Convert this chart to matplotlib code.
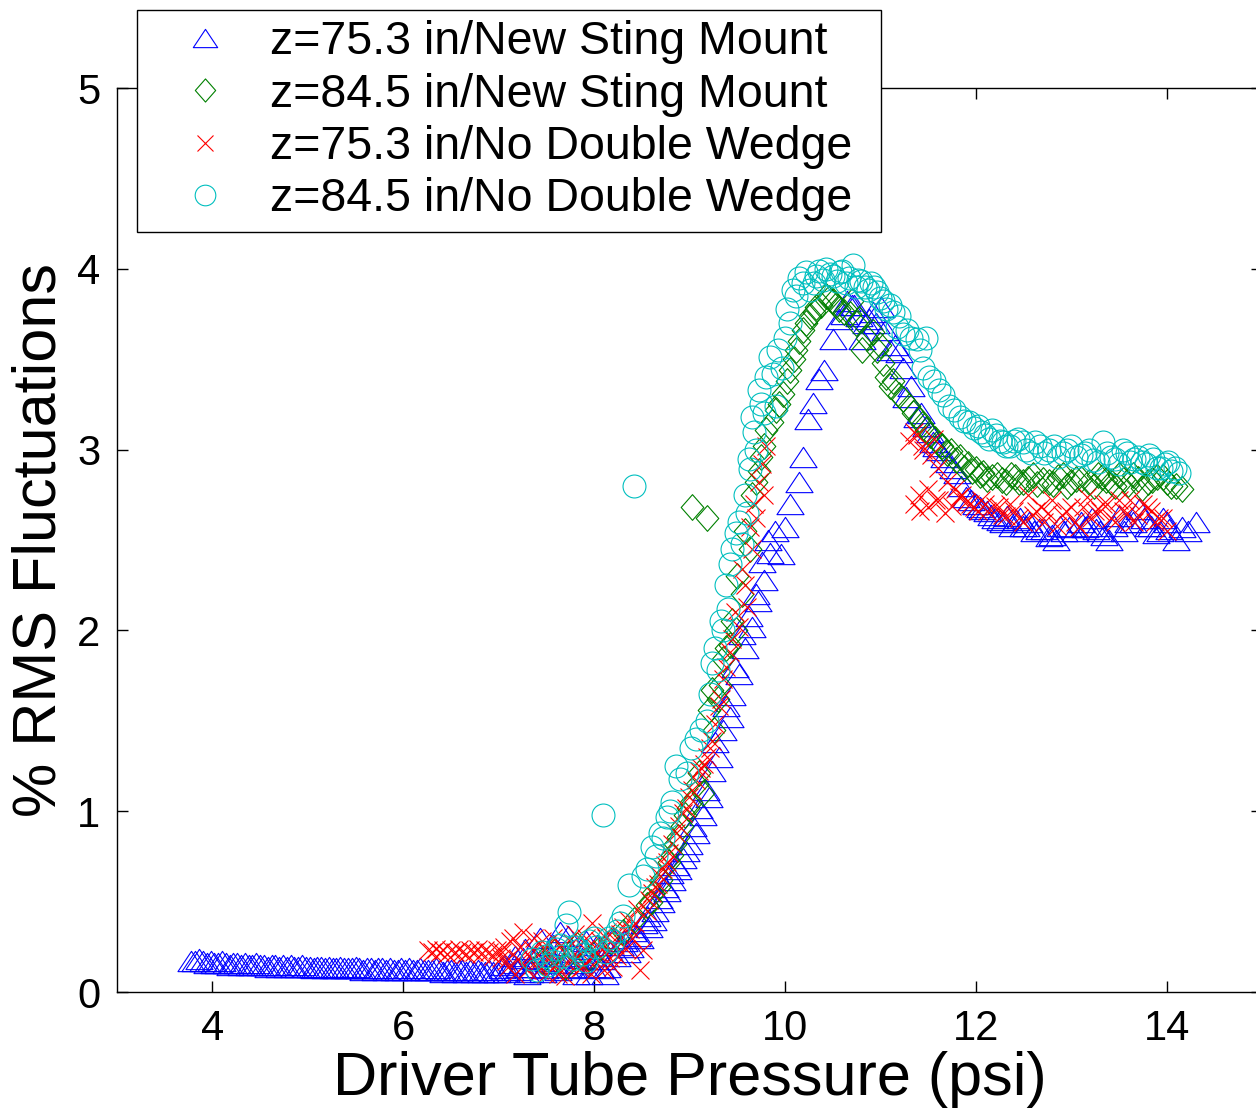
import numpy as np
import matplotlib
matplotlib.use("Agg")
import matplotlib.pyplot as plt
from matplotlib.path import Path

# z=75.3 in / New Sting Mount (blue triangles)
blue_x = [3.78, 3.82, 3.86, 3.90, 3.94, 3.98, 4.02, 4.06, 4.10, 4.14, 4.18, 4.22, 4.26, 4.30,
          4.34, 4.38, 4.42, 4.46, 4.50, 4.54, 4.58, 4.62, 4.66, 4.70, 4.74, 4.78, 4.82, 4.86,
          4.90, 4.94, 4.98, 5.02, 5.06, 5.10, 5.14, 5.18, 5.22, 5.26, 5.30, 5.34, 5.38, 5.42,
          5.46, 5.50, 5.54, 5.58, 5.62, 5.66, 5.70, 5.74, 5.78, 5.82, 5.86, 5.90, 5.94, 5.98,
          6.02, 6.06, 6.10, 6.14, 6.18, 6.22, 6.26, 6.30, 6.34, 6.38, 6.42, 6.46, 6.50, 6.54,
          6.58, 6.62, 6.66, 6.70, 6.74, 6.78, 6.82, 6.86, 6.90, 6.94, 6.98,
          7.03, 7.08, 7.14, 7.19, 7.25, 7.30, 7.36, 7.41, 7.46, 7.52, 7.57, 7.62, 7.68, 7.73,
          7.79, 7.84, 7.90, 7.95, 8.01, 8.06, 8.11, 8.17, 8.24, 8.31, 8.38, 8.45, 8.52, 8.58,
          8.64, 8.70, 8.76, 8.82, 8.88, 8.93, 9.00, 9.07, 9.14, 9.20, 9.24, 9.31, 9.35, 9.42,
          9.45, 9.52, 9.58, 9.66, 9.72, 9.78, 9.84, 9.90, 9.96, 10.00, 10.05, 10.15, 10.19,
          10.24, 10.29, 10.36, 10.41, 10.50, 10.57, 10.65, 10.72, 10.81, 10.88, 10.95, 11.01,
          11.10, 11.20, 11.27, 11.38, 11.48, 11.55, 11.62, 11.72, 11.80, 11.90, 12.00, 12.07,
          12.16, 12.25, 12.33, 12.42, 12.50, 12.56, 12.66, 12.77, 12.84, 12.92, 12.98, 13.10,
          13.18, 13.26, 13.34, 13.40, 13.50, 13.60, 13.71, 13.80, 13.89, 13.96, 14.03, 14.10,
          14.16, 14.31,
          7.06, 7.12, 7.17, 7.22, 7.28, 7.33, 7.38, 7.43, 7.49, 7.54, 7.59, 7.64, 7.70, 7.76,
          7.81, 7.87, 7.92, 7.98, 8.03, 8.08, 8.14, 8.20, 8.27, 8.34, 8.41, 8.48, 8.55, 8.62,
          8.68, 8.74, 8.80, 8.86, 8.96, 9.04, 9.10, 9.17, 9.27, 9.38, 9.48, 9.55, 9.62, 9.70,
          9.76, 9.82, 10.62, 10.70, 10.78, 10.85, 10.92, 11.05, 11.15, 11.24, 11.32, 11.43,
          11.52, 11.58, 11.67, 11.76, 11.85, 11.95, 12.04, 12.12, 12.20, 12.29, 12.38, 12.46,
          12.53, 12.61, 12.72, 12.80, 12.88, 13.04, 13.14, 13.22, 13.30, 13.45, 13.55, 13.65,
          13.76, 13.84, 13.93, 14.00, 14.22]
blue_y = [0.17, 0.17, 0.18, 0.17, 0.16, 0.17, 0.16, 0.16, 0.17, 0.16, 0.15, 0.16, 0.16, 0.15,
          0.16, 0.15, 0.15, 0.16, 0.15, 0.15, 0.14, 0.15, 0.15, 0.14, 0.15, 0.14, 0.15, 0.14,
          0.14, 0.15, 0.14, 0.14, 0.13, 0.14, 0.14, 0.13, 0.14, 0.13, 0.13, 0.14, 0.13, 0.13,
          0.13, 0.14, 0.13, 0.12, 0.13, 0.13, 0.12, 0.13, 0.13, 0.12, 0.13, 0.12, 0.12, 0.13,
          0.12, 0.13, 0.12, 0.12, 0.13, 0.12, 0.12, 0.12, 0.13, 0.12, 0.11, 0.12, 0.12, 0.11,
          0.12, 0.12, 0.11, 0.12, 0.11, 0.12, 0.11, 0.11, 0.12, 0.11, 0.11,
          0.13, 0.11, 0.16, 0.12, 0.19, 0.10, 0.14, 0.22, 0.11, 0.17, 0.26, 0.12, 0.20, 0.31,
          0.13, 0.16, 0.24, 0.10, 0.18, 0.13, 0.10, 0.22, 0.20, 0.28, 0.25, 0.31, 0.38, 0.36,
          0.45, 0.50, 0.56, 0.62, 0.68, 0.74, 0.82, 0.88, 0.98, 1.08, 1.22, 1.30, 1.45, 1.52,
          1.64, 1.76, 1.90, 2.02, 2.16, 2.28, 2.43, 2.55, 2.42, 2.57, 2.70, 2.82, 2.96,
          3.17, 3.26, 3.39, 3.44, 3.61, 3.72, 3.82, 3.80, 3.61, 3.72, 3.70, 3.79,
          3.55, 3.54, 3.29, 3.18, 3.13, 3.04, 3.00, 2.93, 2.87, 2.74, 2.70, 2.67,
          2.64, 2.61, 2.63, 2.61, 2.58, 2.60, 2.56, 2.52, 2.50, 2.55, 2.57, 2.60,
          2.58, 2.56, 2.53, 2.50, 2.63, 2.60, 2.67, 2.58, 2.54, 2.62, 2.56, 2.50,
          2.57, 2.60,
          0.15, 0.12, 0.20, 0.14, 0.24, 0.11, 0.18, 0.30, 0.13, 0.20, 0.16, 0.33, 0.14, 0.22,
          0.10, 0.19, 0.28, 0.14, 0.26, 0.18, 0.14, 0.30, 0.26, 0.22, 0.34, 0.30, 0.42, 0.40,
          0.52, 0.58, 0.66, 0.70, 0.78, 0.92, 1.02, 1.12, 1.38, 1.58, 1.80, 1.98, 2.08, 2.20,
          2.38, 2.50, 3.75, 3.80, 3.74, 3.70, 3.76, 3.66, 3.58, 3.45, 3.35, 3.20,
          3.10, 3.02, 2.96, 2.90, 2.80, 2.72, 2.68, 2.66, 2.62, 2.60, 2.58, 2.62,
          2.58, 2.55, 2.56, 2.53, 2.58, 2.55, 2.57, 2.62, 2.55, 2.58, 2.55, 2.60,
          2.62, 2.58, 2.55, 2.60, 2.55]

# z=84.5 in / New Sting Mount (green diamonds)
green_x = [7.45, 7.58, 7.70, 7.82, 7.95, 8.05, 8.18, 8.30, 8.42, 8.55, 8.62, 8.70, 8.78, 8.85,
           8.92, 8.98, 9.03, 9.18, 9.10, 9.14, 9.20, 9.24, 9.30, 9.35, 9.42, 9.49, 9.55, 9.63,
           9.70, 9.75, 9.80, 9.91, 9.98, 10.05, 10.12, 10.19, 10.26, 10.33, 10.43, 10.50, 10.57,
           10.68, 10.74, 10.81, 10.92, 11.00, 11.06, 11.10, 11.20, 11.30, 11.40, 11.48, 11.57,
           11.65, 11.74, 11.83, 11.92, 12.00, 12.08, 12.17, 12.28, 12.37, 12.45, 12.55, 12.64,
           12.77, 12.86, 12.96, 13.05, 13.19, 13.28, 13.37, 13.46, 13.55, 13.65, 13.74, 13.85,
           13.96, 14.05, 14.16,
           8.60, 8.68, 8.82, 8.88, 8.95, 9.02, 9.08, 9.26, 9.32, 9.38, 9.45, 9.50, 9.58, 9.66,
           9.73, 9.78, 9.86, 9.94, 10.02, 10.09, 10.15, 10.22, 10.30, 10.38, 10.46, 10.54,
           10.62, 10.70, 10.78, 10.86, 10.96, 11.03, 11.13, 11.24, 11.34, 11.44, 11.52, 11.61,
           11.70, 11.79, 11.88, 11.96, 12.04, 12.12, 12.22, 12.32, 12.41, 12.50, 12.60, 12.70,
           12.81, 12.91, 13.00, 13.10, 13.24, 13.32, 13.42, 13.50, 13.60, 13.70, 13.80, 13.90,
           14.00, 14.10]
green_y = [0.17, 0.22, 0.14, 0.26, 0.19, 0.24, 0.28, 0.33, 0.40, 0.48, 0.55, 0.62, 0.72, 0.82,
           0.92, 1.02, 2.68, 2.62, 1.21, 1.10, 1.56, 1.67, 1.62, 1.84, 1.92, 2.00, 2.20, 2.45,
           2.82, 2.96, 3.11, 3.22, 3.31, 3.44, 3.55, 3.66, 3.74, 3.79, 3.85, 3.82, 3.78,
           3.75, 3.70, 3.55, 3.65, 3.58, 3.40, 3.35, 3.30, 3.24, 3.17, 3.11, 3.06,
           3.02, 2.99, 2.96, 2.92, 2.89, 2.87, 2.85, 2.83, 2.86, 2.82, 2.84, 2.81,
           2.82, 2.85, 2.80, 2.84, 2.82, 2.86, 2.83, 2.80, 2.84, 2.86, 2.79, 2.83,
           2.85, 2.80, 2.78,
           0.50, 0.58, 0.76, 0.86, 0.98, 1.05, 1.15, 1.45, 1.70, 1.90, 2.05, 2.30, 2.55, 2.75,
           2.88, 3.02, 3.15, 3.25, 3.38, 3.50, 3.60, 3.70, 3.76, 3.80, 3.84, 3.80,
           3.76, 3.82, 3.72, 3.62, 3.55, 3.48, 3.38, 3.28, 3.20, 3.14, 3.08, 3.03,
           2.98, 2.94, 2.90, 2.88, 2.86, 2.84, 2.86, 2.82, 2.85, 2.82, 2.86, 2.83,
           2.81, 2.86, 2.82, 2.84, 2.80, 2.85, 2.82, 2.86, 2.81, 2.84, 2.82, 2.85,
           2.82, 2.80]

# z=75.3 in / No Double Wedge (red crosses)
red_x = [6.26, 6.30, 6.34, 6.38, 6.42, 6.46, 6.50, 6.54, 6.58, 6.62, 6.66, 6.70, 6.74, 6.78,
         6.82, 6.86, 6.90, 6.94, 6.98, 7.02, 7.06, 7.10, 7.15, 7.20, 7.25, 7.30, 7.35, 7.40,
         7.45, 7.50, 7.55, 7.60, 7.65, 7.70, 7.75, 7.80, 7.85, 7.90, 7.95, 7.98, 8.02, 8.06,
         8.10, 8.14, 8.20, 8.24, 8.30, 8.36, 8.40, 8.45, 8.51, 8.58, 8.64, 8.69, 8.74, 8.79,
         8.86, 8.93, 9.00, 9.07, 9.12, 9.18, 9.24, 9.31, 9.35, 9.42, 9.52, 9.60, 9.55, 9.63,
         9.68, 9.73, 9.80, 11.30, 11.35, 11.40, 11.45, 11.50, 11.56, 11.62, 11.68, 11.35,
         11.42, 11.50, 11.58, 11.75, 11.82, 11.90, 11.98, 12.05, 12.12, 12.20, 12.28, 12.36,
         12.45, 12.55, 12.63, 12.72, 12.80, 12.90, 13.00, 13.08, 13.17, 13.25, 13.33, 13.42,
         13.50, 13.58, 13.66, 13.75, 13.84, 13.92, 14.00,
         7.04, 7.08, 7.12, 7.17, 7.22, 7.27, 7.32, 7.37, 7.42, 7.48, 7.52, 7.57, 7.62, 7.68,
         7.72, 7.77, 7.82, 7.87, 7.92, 7.97, 8.04, 8.08, 8.12, 8.17, 8.22, 8.27, 8.33, 8.38,
         8.43, 8.48, 8.55, 8.61, 8.67, 8.72, 8.76, 8.82, 8.89, 8.96, 9.03, 9.10, 9.15, 9.21,
         9.27, 9.33, 9.38, 9.45, 9.48, 9.58, 9.65, 9.70, 9.76, 9.78, 11.38, 11.44, 11.53,
         11.60, 11.70, 11.78, 11.86, 11.94, 12.02, 12.10, 12.24, 12.32, 12.40, 12.50, 12.60,
         12.68, 12.76, 12.85, 12.95, 13.04, 13.12, 13.21, 13.30, 13.38, 13.46, 13.54, 13.62,
         13.70, 13.80, 13.88, 13.96]
red_y = [0.23, 0.22, 0.24, 0.22, 0.23, 0.21, 0.23, 0.22, 0.24, 0.22, 0.21, 0.23, 0.22, 0.24,
         0.21, 0.23, 0.22, 0.20, 0.23, 0.19, 0.25, 0.14, 0.30, 0.18, 0.33, 0.12, 0.24, 0.16,
         0.28, 0.10, 0.21, 0.15, 0.26, 0.09, 0.19, 0.32, 0.13, 0.24, 0.17, 0.38, 0.22, 0.28,
         0.12, 0.33, 0.14, 0.20, 0.36, 0.40, 0.30, 0.46, 0.23, 0.51, 0.58, 0.64, 0.70, 0.77,
         0.88, 0.99, 1.08, 1.17, 1.24, 1.30, 1.39, 1.58, 1.73, 1.88, 2.02, 2.13, 2.34, 2.57,
         2.70, 2.82, 3.02, 3.05, 3.10, 2.75, 3.00, 2.68, 3.06, 2.72, 2.65, 2.70,
         2.66, 2.78, 2.72, 2.69, 2.74, 2.71, 2.68, 2.72, 2.66, 2.69, 2.64, 2.70,
         2.62, 2.75, 2.66, 2.60, 2.72, 2.64, 2.68, 2.57, 2.74, 2.66, 2.70, 2.62,
         2.72, 2.65, 2.60, 2.70, 2.66, 2.62, 2.55,
         0.22, 0.17, 0.28, 0.10, 0.25, 0.15, 0.20, 0.30, 0.12, 0.24, 0.18, 0.30, 0.10, 0.22,
         0.16, 0.27, 0.20, 0.14, 0.30, 0.10, 0.18, 0.24, 0.30, 0.19, 0.26, 0.32, 0.24, 0.35,
         0.38, 0.12, 0.45, 0.55, 0.60, 0.68, 0.72, 0.82, 0.92, 1.02, 1.12, 1.22, 1.26, 1.35,
         1.48, 1.62, 1.80, 1.95, 2.10, 2.25, 2.45, 2.62, 2.92, 2.75, 3.08, 3.02, 2.97,
         2.90, 2.82, 2.78, 2.75, 2.70, 2.66, 2.70, 2.68, 2.63, 2.66, 2.60, 2.64,
         2.68, 2.65, 2.58, 2.66, 2.60, 2.68, 2.62, 2.66, 2.70, 2.60, 2.66, 2.72,
         2.64, 2.68, 2.60, 2.62]

# z=84.5 in / No Double Wedge (cyan circles)
cyan_x = [7.35, 7.45, 7.52, 7.60, 7.66, 7.71, 7.74, 7.80, 7.88, 7.95, 8.02, 8.09, 8.16, 8.24,
          8.30, 8.37, 8.42, 8.51, 8.61, 8.69, 8.76, 8.82, 8.86, 8.97, 9.07, 9.18, 9.24, 9.30,
          9.35, 9.40, 9.42, 9.49, 9.55, 9.60, 9.63, 9.66, 9.70, 9.73, 9.78, 9.84, 9.91, 9.97,
          10.05, 10.12, 10.19, 10.26, 10.33, 10.43, 10.50, 10.58, 10.64, 10.71, 10.77, 10.84,
          10.90, 10.96, 11.03, 11.10, 11.20, 11.28, 11.38, 11.48, 11.51, 11.62, 11.72, 11.83,
          11.93, 12.02, 12.10, 12.17, 12.25, 12.32, 12.40, 12.49, 12.58, 12.67, 12.77, 12.86,
          12.96, 13.05, 13.14, 13.23, 13.33, 13.42, 13.50, 13.58, 13.66, 13.74, 13.82, 13.90,
          13.98, 14.05, 14.13,
          7.40, 7.50, 7.57, 7.64, 7.77, 7.84, 7.92, 8.00, 8.12, 8.20, 8.27, 8.55, 8.65, 8.72,
          8.80, 8.90, 9.02, 9.12, 9.21, 9.27, 9.33, 9.38, 9.45, 9.52, 9.58, 9.62, 9.68, 9.75,
          9.80, 9.88, 9.93, 10.00, 10.02, 10.08, 10.15, 10.22, 10.30, 10.36, 10.40, 10.47,
          10.55, 10.60, 10.67, 10.74, 10.80, 10.87, 10.93, 11.00, 11.06, 11.13, 11.17, 11.24,
          11.32, 11.42, 11.45, 11.56, 11.66, 11.77, 11.88, 11.98, 12.06, 12.14, 12.21, 12.29,
          12.36, 12.44, 12.53, 12.62, 12.72, 12.82, 12.91, 13.00, 13.10, 13.19, 13.28, 13.38,
          13.46, 13.54, 13.62, 13.70, 13.78, 13.86, 13.94, 14.02, 14.09]
cyan_y = [0.18, 0.22, 0.15, 0.24, 0.20, 0.37, 0.44, 0.25, 0.21, 0.28, 0.25, 0.98, 0.30, 0.34,
          0.42, 0.59, 2.80, 0.64, 0.80, 0.88, 0.97, 1.05, 1.25, 1.21, 1.40, 1.50, 1.82, 1.78,
          2.00, 2.12, 2.37, 2.54, 2.48, 2.65, 2.89, 3.18, 3.00, 3.33, 3.20, 3.51, 3.24, 3.45,
          3.70, 3.85, 3.92, 3.88, 3.96, 4.00, 3.96, 3.98, 3.92, 4.02, 3.94, 3.90,
          3.92, 3.87, 3.82, 3.80, 3.74, 3.66, 3.61, 3.62, 3.40, 3.33, 3.24, 3.18,
          3.15, 3.13, 3.08, 3.11, 3.05, 3.02, 3.05, 3.04, 2.98, 3.02, 3.00, 2.96,
          3.00, 2.96, 2.98, 2.94, 3.04, 2.96, 2.92, 2.98, 2.95, 2.93, 2.97, 2.90,
          2.92, 2.88, 2.87,
          0.12, 0.20, 0.17, 0.26, 0.18, 0.23, 0.17, 0.30, 0.22, 0.28, 0.38, 0.68, 0.75, 0.85,
          1.00, 1.18, 1.35, 1.45, 1.65, 1.90, 2.05, 2.25, 2.45, 2.60, 2.75, 2.95, 3.10, 3.25,
          3.40, 3.42, 3.55, 3.62, 3.78, 3.88, 3.95, 3.98, 3.92, 3.99, 3.94, 3.97,
          3.93, 3.99, 3.95, 3.90, 3.93, 3.88, 3.90, 3.84, 3.78, 3.76, 3.68, 3.64,
          3.62, 3.55, 3.45, 3.38, 3.30, 3.22, 3.16, 3.12, 3.10, 3.06, 3.08, 3.04,
          3.02, 3.06, 3.00, 3.04, 2.98, 3.02, 2.98, 3.02, 2.97, 3.00, 2.93, 2.98,
          2.95, 3.00, 2.93, 2.96, 2.92, 2.95, 2.90, 2.93, 2.90]

labels = ["z=75.3 in/New Sting Mount", "z=84.5 in/New Sting Mount",
          "z=75.3 in/No Double Wedge", "z=84.5 in/No Double Wedge"]

plt.rcParams['font.family'] = ['Liberation Sans', 'DejaVu Sans']

# MATLAB style markers: wide triangle and slightly tall diamond
tri = Path([(0, 0.75), (-1, -0.75), (1, -0.75), (0, 0.75)],
           [Path.MOVETO, Path.LINETO, Path.LINETO, Path.CLOSEPOLY])
dia = Path([(0, 1), (0.88, 0), (0, -1), (-0.88, 0), (0, 1)],
           [Path.MOVETO, Path.LINETO, Path.LINETO, Path.LINETO, Path.CLOSEPOLY])

fig = plt.figure(figsize=(12.56, 11.13), dpi=100)
ax = fig.add_axes([117 / 1256, 1 - 992 / 1113, 1145 / 1256, 904 / 1113])

mew = 0.8
ax.plot(blue_x, blue_y, linestyle='none', marker=tri, ms=19.5, mfc='none',
        mec='#0000ff', mew=mew, label=labels[0])
ax.plot(green_x, green_y, linestyle='none', marker=dia, ms=18.5, mfc='none',
        mec='#008000', mew=mew, label=labels[1])
ax.plot(red_x, red_y, linestyle='none', marker='x', ms=13, mfc='none',
        mec='#ff0000', mew=mew, label=labels[2])
ax.plot(cyan_x, cyan_y, linestyle='none', marker='o', ms=16.5, mfc='none',
        mec='#00bfbf', mew=mew, label=labels[3])

ax.set_xlim(3, 15)
ax.set_ylim(0, 5)
ax.set_xticks([4, 6, 8, 10, 12, 14])
ax.set_yticks([0, 1, 2, 3, 4, 5])
ax.tick_params(direction='in', length=8, width=1, top=True, right=True,
               labelsize=30, pad=12)
for s in ax.spines.values():
    s.set_linewidth(1)

ax.set_xlabel("Driver Tube Pressure (psi)", fontsize=44, labelpad=2)
ax.set_ylabel("% RMS Fluctuations", fontsize=44, labelpad=6)

leg_top = 1 - 10 / 1113
leg = ax.legend(loc='upper left', mode='expand',
                bbox_to_anchor=(137 / 1256, 0.5, 744 / 1256, leg_top - 0.5),
                bbox_transform=fig.transFigure, borderaxespad=0, fontsize=33.5,
                fancybox=False, framealpha=1, edgecolor='black', handlelength=2.47,
                handletextpad=0.16, labelspacing=0.18, borderpad=0.22, markerscale=0.9)
leg.get_frame().set_linewidth(1)

fig.savefig("out.png", dpi=100)
